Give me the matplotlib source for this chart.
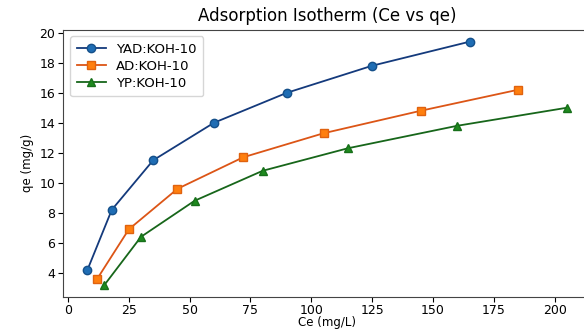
import matplotlib
matplotlib.use("Agg")
from matplotlib import pyplot as plt

# Ce (mg/L) and qe (mg/g) for each adsorbent
ce_yad = [8, 18, 35, 60, 90, 125, 165]
qe_yad = [4.2, 8.2, 11.5, 14.0, 16.0, 17.8, 19.4]

ce_ad = [12, 25, 45, 72, 105, 145, 185]
qe_ad = [3.6, 6.9, 9.6, 11.7, 13.3, 14.8, 16.2]

ce_yp = [15, 30, 52, 80, 115, 160, 205]
qe_yp = [3.2, 6.4, 8.8, 10.8, 12.3, 13.8, 15.0]

labels = ["YAD:KOH-10", "AD:KOH-10", "YP:KOH-10"]

fig = plt.figure(figsize=(5.84, 3.29), dpi=100)
# axes runs a bit past the right edge, like the reference crop
ax = fig.add_axes([0.1087, 0.0972, 0.903, 0.813])

ax.plot(ce_yad, qe_yad, marker='o', color='#143a7c', markerfacecolor='#1f6db4',
        markeredgecolor='#15508a', markersize=6, linewidth=1.3, label=labels[0])
ax.plot(ce_ad, qe_ad, marker='s', color='#dc5516', markerfacecolor='#ff7f0e',
        markeredgecolor='#e0620f', markersize=5.5, linewidth=1.3, label=labels[1])
ax.plot(ce_yp, qe_yp, marker='^', color='#17661a', markerfacecolor='#1e8a1e',
        markeredgecolor='#17701a', markersize=6, linewidth=1.3, label=labels[2])

ax.set_title("Adsorption Isotherm (Ce vs qe)", fontsize=12)
ax.set_xlabel("Ce (mg/L)", fontsize=8.5, labelpad=-0.5)
ax.set_ylabel("qe (mg/g)", fontsize=8.5)
ax.tick_params(labelsize=9, pad=2.5)
ax.tick_params(axis='x', pad=1.5)
ax.set_yticks([4, 6, 8, 10, 12, 14, 16, 18, 20])
for s in ax.spines.values():
    s.set_color('#444444')

ax.legend(loc='upper left', fontsize=9.5, handlelength=2.2, borderpad=0.5, labelspacing=0.3)

fig.savefig("out.png", dpi=100)
